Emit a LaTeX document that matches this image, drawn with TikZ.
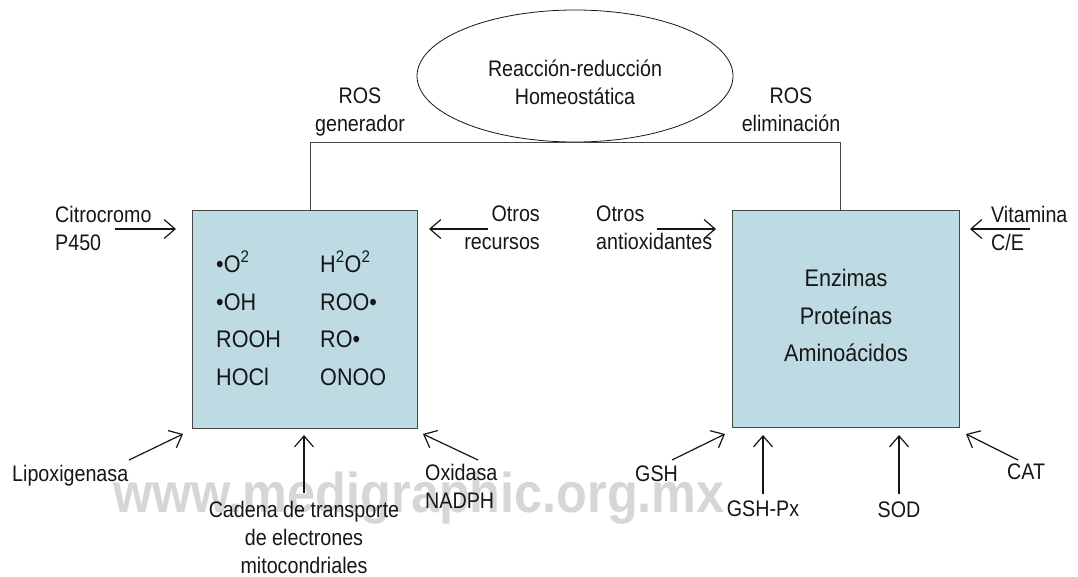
\documentclass[tikz,border=0pt]{standalone}
\usepackage{fontspec}
\setmainfont{Liberation Sans}
\newfontfamily\labfont[FakeStretch=0.875]{Liberation Sans}
\newfontfamily\boxfont[FakeStretch=0.9]{Liberation Sans}
\newfontfamily\wmfont[FakeStretch=0.9]{Liberation Sans}
\usetikzlibrary{arrows.meta,shapes.geometric}
\definecolor{ink}{RGB}{22,22,22}
\definecolor{boxfill}{RGB}{190,218,226}
\definecolor{boxline}{RGB}{70,70,70}
\definecolor{wmgray}{RGB}{214,214,214}
\tikzset{
  lbl/.style={font={\labfont\fontsize{22.5}{28}\selectfont}, text=ink, inner sep=0pt},
  boxtxt/.style={font={\boxfont\fontsize{24}{37.7}\selectfont}, text=ink, inner sep=0pt},
  bigbox/.style={draw=boxline, fill=boxfill, line width=1.1pt, inner sep=0pt, anchor=north west},
  conn/.style={draw=ink, line width=1.2pt, -{Straight Barb[length=11pt,width=19pt]}},
  bus/.style={draw=boxline, line width=1pt},
}
\begin{document}
\begin{tikzpicture}[x=1pt,y=-1pt]
\useasboundingbox (0,0) rectangle (1078,576);
% watermark
\node[anchor=base west, inner sep=0pt, text=wmgray, font={\wmfont\bfseries\fontsize{56}{60}\selectfont}] (wm) at (113,512) {www.medigraphic.org.mx};

% ellipse
\node[draw=ink, ellipse, line width=0.8pt, minimum width=316pt, minimum height=132pt, inner sep=0pt] (ell) at (575,76) {};
\node[lbl, anchor=north, align=center] (elltxt) at (575,60) {Reacción-reducción\\Homeostática};

% boxes
\node[bigbox, minimum width=225pt, minimum height=218pt] (lb) at (192,210) {};
\node[bigbox, minimum width=227pt, minimum height=217pt] (rb) at (732,210) {};

% bus
\coordinate (busL) at (310,142);
\coordinate (busR) at (840,142);
\draw[bus] (lb.north -| busL) -- (busL) -- (busR) -- (rb.north -| busR);

\node[lbl, anchor=north, align=center] (rosg) at (360,88) {ROS\\generador};
\node[lbl, anchor=north, align=center] (rose) at (791,88) {ROS\\eliminación};

% left box contents
\node[boxtxt, anchor=base west] (s1) at (216,272) {•O\textsuperscript{2}};
\node[boxtxt, anchor=base west] (s2) at (216,310) {•OH};
\node[boxtxt, anchor=base west] (s3) at (216,347) {ROOH};
\node[boxtxt, anchor=base west] (s4) at (216,385) {HOCl};
\node[boxtxt, anchor=base west] (s5) at (320,272) {H\textsuperscript{2}O\textsuperscript{2}};
\node[boxtxt, anchor=base west] (s6) at (320,310) {ROO•};
\node[boxtxt, anchor=base west] (s7) at (320,347) {RO•};
\node[boxtxt, anchor=base west] (s8) at (320,385) {ONOO};

% right box contents
\node[boxtxt, anchor=north, align=center] (rbt) at (846,269) {Enzimas\\Proteínas\\Aminoácidos};

% side labels
\node[lbl, anchor=north west, align=left] (cit) at (55,206) {Citrocromo\\P450};
\node[lbl, anchor=north east, align=right] (otr) at (540,206) {Otros\\recursos};
\node[lbl, anchor=north west, align=left] (ota) at (596,206) {Otros\\antioxidantes};
\node[lbl, anchor=north west, align=left] (vit) at (991,206) {Vitamina\\C/E};

\coordinate (c1a) at (115,229); \coordinate (c1b) at (176,229);
\coordinate (c2a) at (488,229); \coordinate (c2b) at (429,229);
\coordinate (c3a) at (657,229); \coordinate (c3b) at (716,229);
\coordinate (c4a) at (1030,229); \coordinate (c4b) at (970,229);
\draw[conn] (c1a) -- (c1b);
\draw[conn] (c2a) -- (c2b);
\draw[conn] (c3a) -- (c3b);
\draw[conn] (c4a) -- (c4b);

% bottom labels
\node[lbl, anchor=north west] (lip) at (12,465) {Lipoxigenasa};
\node[lbl, anchor=north, align=center] (cad) at (304,501) {Cadena de transporte\\de electrones\\mitocondriales};
\node[lbl, anchor=north west, align=left] (oxi) at (425,464) {Oxidasa\\NADPH};
\node[lbl, anchor=north west] (gsh) at (635,466) {GSH};
\node[lbl, anchor=north] (gpx) at (763,501) {GSH-Px};
\node[lbl, anchor=north] (sod) at (899,502) {SOD};
\node[lbl, anchor=north west] (cat) at (1007,464) {CAT};

\coordinate (b1a) at (129,460); \coordinate (b1b) at (183,434);
\coordinate (b2a) at (304,493); \coordinate (b2b) at (304,435);
\coordinate (b3a) at (478,460); \coordinate (b3b) at (423,434);
\coordinate (b4a) at (672,460); \coordinate (b4b) at (725,434);
\coordinate (b5a) at (763,494); \coordinate (b5b) at (763,435);
\coordinate (b6a) at (899,494); \coordinate (b6b) at (899,435);
\coordinate (b7a) at (1018,460); \coordinate (b7b) at (966,434);
\draw[conn] (b1a) -- (b1b);
\draw[conn] (b2a) -- (b2b);
\draw[conn] (b3a) -- (b3b);
\draw[conn] (b4a) -- (b4b);
\draw[conn] (b5a) -- (b5b);
\draw[conn] (b6a) -- (b6b);
\draw[conn] (b7a) -- (b7b);
\end{tikzpicture}
\end{document}
